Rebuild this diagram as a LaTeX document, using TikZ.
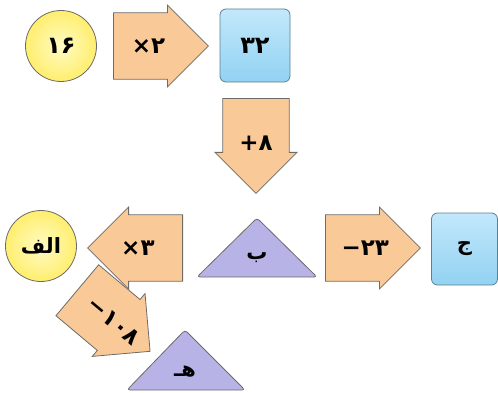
\documentclass[tikz,border=0pt]{standalone}
\usepackage{fontspec}
\usetikzlibrary{shapes.arrows}
\newfontfamily\farsi[Script=Arabic]{DejaVu Sans}
\newfontfamily\farsinum[Script=Latin]{DejaVu Sans}
\TeXXeTstate=1
\definecolor{penline}{HTML}{6E6A66}
\definecolor{yellowin}{HTML}{FFFBC4}
\definecolor{yellowout}{HTML}{FFEE6E}
\definecolor{bluetop}{HTML}{C2E8FB}
\definecolor{bluebot}{HTML}{92D2F2}
\definecolor{bluedraw}{HTML}{5D7F92}
\definecolor{arrowfill}{HTML}{FAC998}
\definecolor{trifill}{HTML}{B7B3E6}
\tikzstyle{num} = [circle, draw=penline, line width=0.8pt, inner color=yellowin, outer color=yellowout, minimum size=71pt, font=\farsinum\bfseries\fontsize{24}{24}\selectfont]
\tikzstyle{box} = [rectangle, rounded corners=6pt, draw=bluedraw, line width=0.8pt, top color=bluetop, bottom color=bluebot, minimum width=70pt, minimum height=73pt, font=\farsinum\bfseries\fontsize{24}{24}\selectfont]
\tikzstyle{op} = [single arrow, draw=penline, line width=0.8pt, fill=arrowfill, minimum height=95pt, minimum width=82pt, inner sep=30pt, anchor=tail]
\tikzstyle{optext} = [font=\farsinum\bfseries\fontsize{23}{23}\selectfont]
\tikzstyle{tri} = [draw=penline, line width=0.8pt, fill=trifill, rounded corners=3pt]
\tikzstyle{lbl} = [font=\farsi\bfseries\fontsize{21}{21}\selectfont]

\begin{document}
\begin{tikzpicture}[x=1pt, y=1pt]
		\useasboundingbox (0,0) rectangle (498,392);
		\node[num] (n16) at (61,346) {۱۶};
		\node[op] (times2) at (113,346) {};
		\path (times2.tail) -- node[optext, pos=.37] {×۲} (times2.tip);
		\node[box] (n32) at (255,346.5) {۳۲};
		\node[op, shape border rotate=270] (plus8) at (256,294) {};
		\path (plus8.tail) -- node[optext, pos=.47] {+۸} (plus8.tip);
		\draw[tri] (197,115) -- (257,174) -- (317,115) -- cycle;
		\node[lbl] (b) at (257,134) {\beginR ب\endR};
		\node[op, shape border rotate=180] (times3) at (183,144) {};
		\path (times3.tail) -- node[optext, pos=.47] {×۳} (times3.tip);
		\node[num, font=\farsi\bfseries\fontsize{21}{21}\selectfont] (alef) at (41,146) {\beginR الف\endR};
		\node[op] (minus23) at (325,144) {};
		\path (minus23.tail) -- node[optext, pos=.42] {−۲۳} (minus23.tip);
		\node[box, minimum width=66pt, minimum height=72pt, font=\farsi\bfseries\fontsize{21}{21}\selectfont] (jim) at (464.5,143) {\beginR ج\endR};
		\node[op, rotate=-40] (minus108) at (77,102) {};
		\path (minus108.tail) -- node[optext, sloped, pos=.5] {−۱۰۸} (minus108.tip);
		\draw[tri] (127,2) -- (185,62) -- (245,2) -- cycle;
		\node[lbl] (he) at (185,20) {\beginR هـ\endR};
\end{tikzpicture}
\end{document}
